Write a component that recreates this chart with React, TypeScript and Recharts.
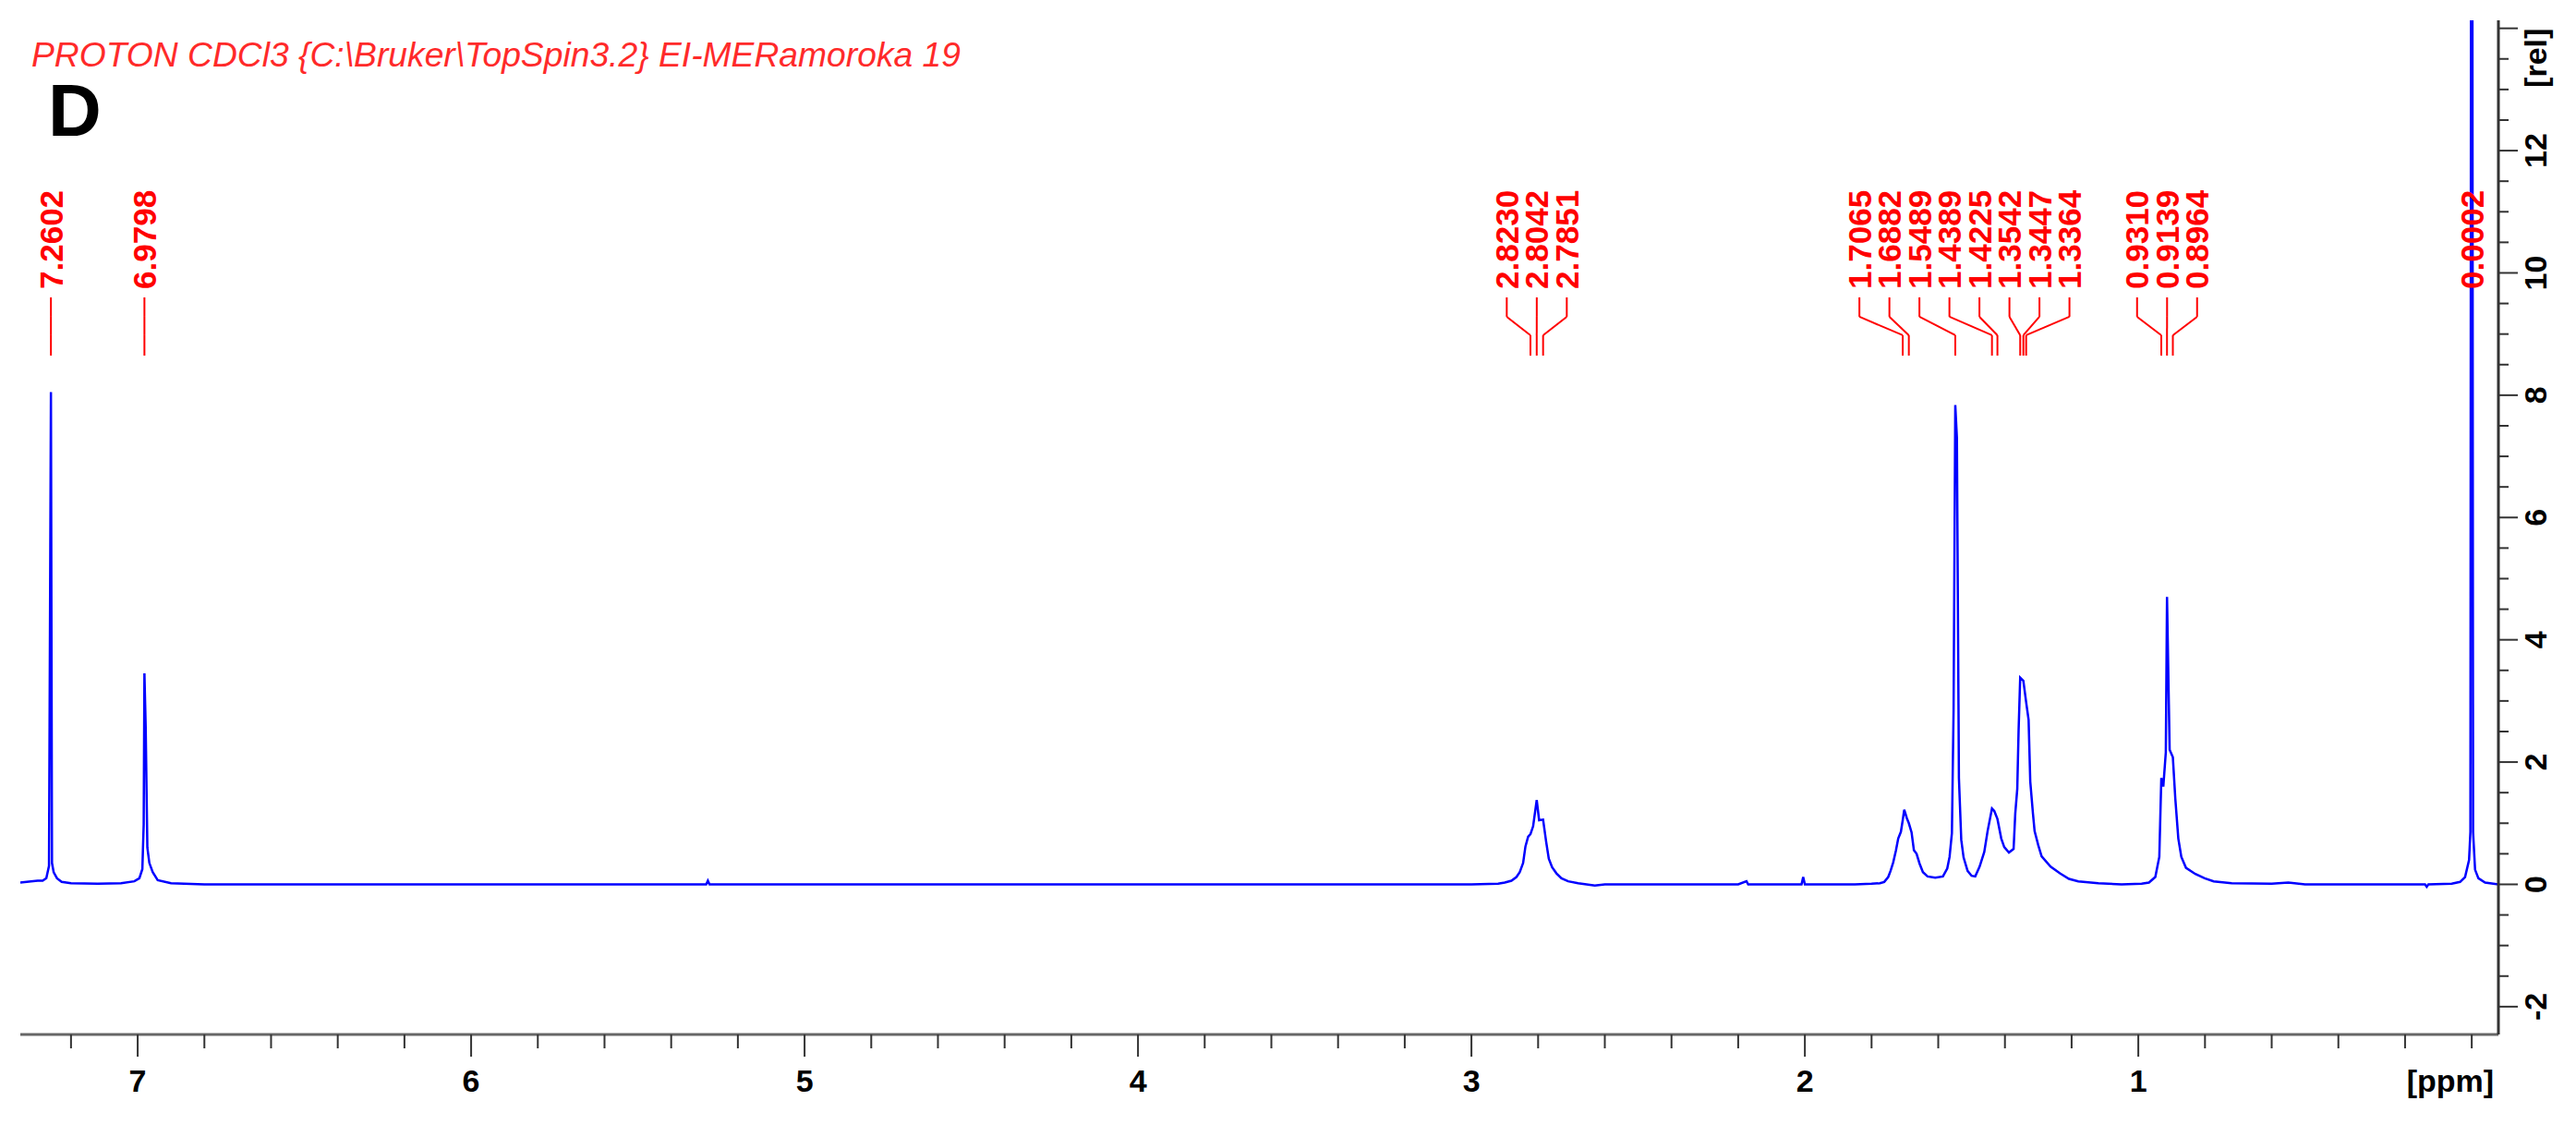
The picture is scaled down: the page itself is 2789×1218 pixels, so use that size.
import { LineChart, Line, XAxis, YAxis, ReferenceLine, ReferenceDot } from "recharts";

// spectrum: chemical shift (ppm, left to right) and intensity [rel]
const PPM = [
  7.352, 7.32, 7.3, 7.285, 7.274, 7.266, 7.2602, 7.257, 7.252, 7.242, 7.228, 7.2, 7.12, 7.05, 7.01, 6.995,
  6.986, 6.982, 6.9798, 6.976, 6.971, 6.965, 6.955, 6.94, 6.9, 6.8, 6.5, 6.0, 5.5, 5.295, 5.29, 5.285,
  5.0, 4.5, 4.0, 3.5, 3.0, 2.92, 2.9, 2.88, 2.865, 2.855, 2.845, 2.838, 2.83, 2.823, 2.815, 2.8042,
  2.797, 2.7851, 2.776, 2.768, 2.758, 2.745, 2.73, 2.71, 2.68, 2.63, 2.6, 2.4, 2.2, 2.175, 2.17, 2.01,
  2.005, 2.0, 1.85, 1.8, 1.775, 1.762, 1.75, 1.743, 1.735, 1.727, 1.72, 1.712, 1.7065, 1.702, 1.694, 1.6882,
  1.68, 1.673, 1.665, 1.656, 1.646, 1.632, 1.609, 1.586, 1.573, 1.566, 1.559, 1.554, 1.5489, 1.544, 1.538, 1.531,
  1.524, 1.512, 1.5, 1.489, 1.476, 1.462, 1.452, 1.4389, 1.432, 1.4225, 1.411, 1.402, 1.388, 1.374, 1.369, 1.363,
  1.359, 1.3542, 1.3447, 1.3364, 1.329, 1.324, 1.316, 1.311, 1.3, 1.29, 1.263, 1.235, 1.208, 1.18, 1.12, 1.05,
  0.99, 0.968, 0.949, 0.937, 0.931, 0.925, 0.9175, 0.9139, 0.906, 0.8964, 0.889, 0.88, 0.871, 0.857, 0.829, 0.801,
  0.774, 0.72, 0.6, 0.55, 0.5, 0.3, 0.14, 0.135, 0.13, 0.06, 0.035, 0.02, 0.008, 0.004, 0.0002, -0.004,
  -0.01, -0.02, -0.04, -0.08,
];
const REL = [
  0.03, 0.05, 0.06, 0.06, 0.1, 0.3, 8.05, 0.35, 0.2, 0.1, 0.04, 0.02, 0.01, 0.02, 0.05, 0.1,
  0.25, 0.98, 3.45, 2.57, 0.6, 0.35, 0.2, 0.07, 0.02, 0, 0, 0, 0, 0, 0.06, 0,
  0, 0, 0, 0, 0, 0.01, 0.03, 0.06, 0.12, 0.2, 0.35, 0.62, 0.78, 0.82, 0.95, 1.38,
  1.05, 1.06, 0.7, 0.42, 0.28, 0.18, 0.1, 0.05, 0.02, -0.02, 0, 0, 0, 0.05, 0, 0,
  0.12, 0, 0, 0.01, 0.02, 0.04, 0.12, 0.22, 0.36, 0.55, 0.75, 0.86, 1.05, 1.22, 1.08, 1.0,
  0.85, 0.56, 0.5, 0.34, 0.2, 0.13, 0.11, 0.13, 0.26, 0.45, 0.84, 2.86, 7.84, 7.3, 1.74, 0.73,
  0.44, 0.22, 0.14, 0.13, 0.29, 0.53, 0.87, 1.24, 1.2, 1.07, 0.75, 0.61, 0.52, 0.58, 1.16, 1.56,
  2.52, 3.38, 3.33, 2.98, 2.69, 1.68, 1.16, 0.87, 0.64, 0.46, 0.29, 0.18, 0.09, 0.05, 0.02, 0,
  0.01, 0.03, 0.12, 0.45, 1.74, 1.6, 2.16, 4.7, 2.2, 2.08, 1.4, 0.75, 0.45, 0.27, 0.17, 0.1,
  0.05, 0.02, 0.01, 0.03, 0, 0, 0, -0.04, 0, 0.01, 0.04, 0.12, 0.4, 0.86, 30, 0.86,
  0.24, 0.1, 0.03, 0,
];

const PEAK_PPM = [
  7.2602, 6.9798, 2.823, 2.8042, 2.7851, 1.7065, 1.6882, 1.5489, 1.4389, 1.4225, 1.3542, 1.3447, 1.3364,
  0.931, 0.9139, 0.8964, 0.0002,
];

const X_TICKS = [
  0, 0.2, 0.4, 0.6, 0.8, 1, 1.2, 1.4, 1.6, 1.8, 2, 2.2, 2.4, 2.6, 2.8, 3, 3.2, 3.4, 3.6, 3.8, 4, 4.2, 4.4,
  4.6, 4.8, 5, 5.2, 5.4, 5.6, 5.8, 6, 6.2, 6.4, 6.6, 6.8, 7, 7.2,
];
const X_LABELS = [1, 2, 3, 4, 5, 6, 7];
const Y_TICKS = [
  -2, -1.5, -1, -0.5, 0, 0.5, 1, 1.5, 2, 2.5, 3, 3.5, 4, 4.5, 5, 5.5, 6, 6.5, 7, 7.5, 8, 8.5, 9, 9.5, 10,
  10.5, 11, 11.5, 12, 12.5, 13, 13.5, 14,
];
const Y_MAJOR = [-2, 0, 2, 4, 6, 8, 10, 12, 14];
const Y_LABELS = [-2, 0, 2, 4, 6, 8, 10, 12];

const TITLE = "PROTON CDCl3 {C:\\Bruker\\TopSpin3.2} EI-MERamoroka 19";

const W = 2789;
const H = 1218;
const X_DOMAIN: [number, number] = [-0.08, 7.352];
const Y_DOMAIN: [number, number] = [-2.455, 14.131];
const FONT = '"Liberation Sans", Arial, sans-serif';
const RED = "#ff0000";
const FRAME = "#666666";

// leader geometry in [rel] units
const LABEL_GAP = 0.09;
const TEXT_START = 9.736;
const LEAD_TOP = 9.6;
const LEAD_K1 = 9.283;
const LEAD_K2 = 8.981;
const LEAD_BOTTOM = 8.648;

const data = PPM.map((p, i) => ({ ppm: p, rel: REL[i] }));

// spread overlapping peak labels, each cluster centred on the middle of its extremes
function spreadLabels(peaks: number[], gap: number) {
  let groups = peaks.map((p) => [p]);
  const place = (g: number[]) => {
    const c = (g[0] + g[g.length - 1]) / 2;
    return g.map((_, i) => c + ((g.length - 1) / 2 - i) * gap);
  };
  let merged = true;
  while (merged) {
    merged = false;
    for (let i = 0; i < groups.length - 1; i++) {
      const a = place(groups[i]);
      const b = place(groups[i + 1]);
      if (a[a.length - 1] - b[0] < gap - 1e-9) {
        groups.splice(i, 2, [...groups[i], ...groups[i + 1]]);
        merged = true;
        break;
      }
    }
  }
  return groups.flatMap(place);
}

const labelPpm = spreadLabels(PEAK_PPM, LABEL_GAP);

const XTick = (props: any) => {
  const { x, y, payload } = props;
  const v = payload.value;
  const major = X_LABELS.includes(v);
  return (
    <g>
      <line x1={x} y1={y} x2={x} y2={y + (major ? 24 : 15)} stroke="#333" strokeWidth={2} />
      {major && (
        <text x={x} y={y + 62} textAnchor="middle" fontFamily={FONT} fontWeight="bold" fontSize={34} fill="#000">
          {v}
        </text>
      )}
      {v === 0 && (
        <text x={x + 24} y={y + 62} textAnchor="end" fontFamily={FONT} fontWeight="bold" fontSize={34} fill="#000">
          [ppm]
        </text>
      )}
    </g>
  );
};

const YTick = (props: any) => {
  const { x, y, payload } = props;
  const v = payload.value;
  const major = Y_MAJOR.includes(v);
  const tx = x + 52;
  return (
    <g>
      <line x1={x} y1={y} x2={x + (major ? 21 : 11)} y2={y} stroke="#333" strokeWidth={2} />
      {Y_LABELS.includes(v) && (
        <text
          x={tx}
          y={y}
          transform={`rotate(-90 ${tx} ${y})`}
          textAnchor="middle"
          fontFamily={FONT}
          fontWeight="bold"
          fontSize={34}
          fill="#000"
        >
          {v}
        </text>
      )}
      {v === 14 && (
        <text
          x={tx}
          y={y}
          transform={`rotate(-90 ${tx} ${y})`}
          textAnchor="end"
          fontFamily={FONT}
          fontWeight="bold"
          fontSize={34}
          fill="#000"
        >
          [rel]
        </text>
      )}
    </g>
  );
};

const PeakText = (text: string) => (props: any) => {
  const { cx, cy } = props;
  const bx = cx + 12.5;
  return (
    <text
      x={bx}
      y={cy}
      transform={`rotate(-90 ${bx} ${cy})`}
      textAnchor="start"
      fontFamily={FONT}
      fontWeight="bold"
      fontSize={35}
      fill={RED}
    >
      {text}
    </text>
  );
};

export default function App() {
  return (
    <div style={{ position: "absolute", left: 0, top: 0, width: W, height: H, background: "#fff" }}>
      <LineChart width={W} height={H} data={data} margin={{ top: 22, right: 0, bottom: 0, left: 22 }}>
        <XAxis
          xAxisId="ppm"
          dataKey="ppm"
          type="number"
          domain={X_DOMAIN}
          reversed
          allowDataOverflow
          ticks={X_TICKS}
          interval={0}
          tick={XTick}
          tickLine={false}
          tickSize={0}
          tickMargin={0}
          height={98}
          axisLine={{ stroke: FRAME, strokeWidth: 3 }}
        />
        <XAxis
          xAxisId="top"
          orientation="top"
          type="number"
          domain={X_DOMAIN}
          reversed
          allowDataOverflow
          height={0}
          tick={false}
          tickLine={false}
          axisLine={{ stroke: FRAME, strokeWidth: 3 }}
        />
        <YAxis
          yAxisId="rel"
          orientation="right"
          type="number"
          domain={Y_DOMAIN}
          allowDataOverflow
          ticks={Y_TICKS}
          interval={0}
          tick={YTick}
          tickLine={false}
          tickSize={0}
          tickMargin={0}
          width={84}
          axisLine={{ stroke: "#333", strokeWidth: 3 }}
        />
        <YAxis
          yAxisId="left"
          orientation="left"
          type="number"
          domain={Y_DOMAIN}
          allowDataOverflow
          width={0}
          tick={false}
          tickLine={false}
          axisLine={{ stroke: FRAME, strokeWidth: 3 }}
        />
        {PEAK_PPM.map((p, i) => [
          <ReferenceLine
            key={`a${i}`}
            xAxisId="ppm"
            yAxisId="rel"
            segment={[
              { x: labelPpm[i], y: LEAD_TOP },
              { x: labelPpm[i], y: LEAD_K1 },
            ]}
            stroke={RED}
            strokeWidth={2}
          />,
          <ReferenceLine
            key={`b${i}`}
            xAxisId="ppm"
            yAxisId="rel"
            segment={[
              { x: labelPpm[i], y: LEAD_K1 },
              { x: p, y: LEAD_K2 },
            ]}
            stroke={RED}
            strokeWidth={2}
          />,
          <ReferenceLine
            key={`c${i}`}
            xAxisId="ppm"
            yAxisId="rel"
            segment={[
              { x: p, y: LEAD_K2 },
              { x: p, y: LEAD_BOTTOM },
            ]}
            stroke={RED}
            strokeWidth={2}
          />,
          <ReferenceDot
            key={`t${i}`}
            xAxisId="ppm"
            yAxisId="rel"
            x={labelPpm[i]}
            y={TEXT_START}
            shape={PeakText(p.toFixed(4))}
          />,
        ])}
        <Line
          xAxisId="ppm"
          yAxisId="rel"
          type="linear"
          dataKey="rel"
          stroke="#0000ff"
          strokeWidth={2.5}
          dot={false}
          activeDot={false}
          isAnimationActive={false}
        />
      </LineChart>
      <svg width={W} height={H} style={{ position: "absolute", left: 0, top: 0, pointerEvents: "none" }}>
        <text
          x={34}
          y={72}
          fontFamily={FONT}
          fontStyle="italic"
          fontSize={37}
          fill="#ff2a2a"
          textLength={1006}
          lengthAdjust="spacingAndGlyphs"
        >
          {TITLE}
        </text>
        <text x={52} y={147} fontFamily={FONT} fontWeight="bold" fontSize={80} fill="#000">
          D
        </text>
      </svg>
    </div>
  );
}
